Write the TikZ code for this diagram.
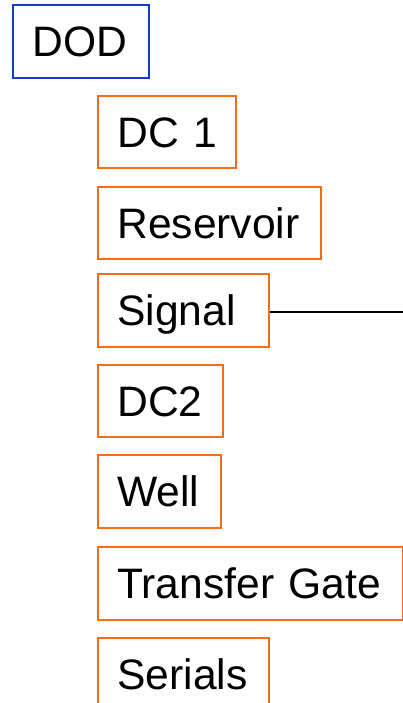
\documentclass[tikz,border=0pt]{standalone}
\usepackage{fontspec}
\setmainfont{Liberation Sans}
\definecolor{boxorange}{RGB}{248,108,24}
\definecolor{boxblue}{RGB}{22,58,205}
\begin{document}
\begin{tikzpicture}[x=1pt,y=1pt,
  item/.style={draw=boxorange, line width=1.6pt, anchor=north west,
    inner xsep=19.5pt, inner ysep=0pt, minimum height=72pt, align=left,
    text height=30.5pt, text depth=0pt,
    font=\fontsize{42.6}{50}\selectfont},
  topitem/.style={item, draw=boxblue}]
\useasboundingbox (0,0) rectangle (403,-703);
\node[topitem, text width=136-39, minimum height=73] (dod) at (12,-4) {DOD};
\node[item, text width=138-39] (dc1) at (97,-95) {DC~1};
\node[item, text width=223-39] (res) at (97,-186) {Reservoir};
\node[item, text width=171-39, minimum height=73] (sig) at (97,-273) {Signal};
\node[item, text width=125-39] (dc2) at (97,-364) {DC2};
\node[item, text width=123-39, minimum height=73] (well) at (97,-454) {Well};
\node[item, text width=305-39, minimum height=73] (tg) at (97,-546) {Transfer~Gate};
\node[item, text width=171-39] (ser) at (97,-637) {Serials};
\coordinate (sigend) at (403,-312);
\draw[line width=2pt] (sig.east |- sigend) -- (sigend);
\end{tikzpicture}
\end{document}
